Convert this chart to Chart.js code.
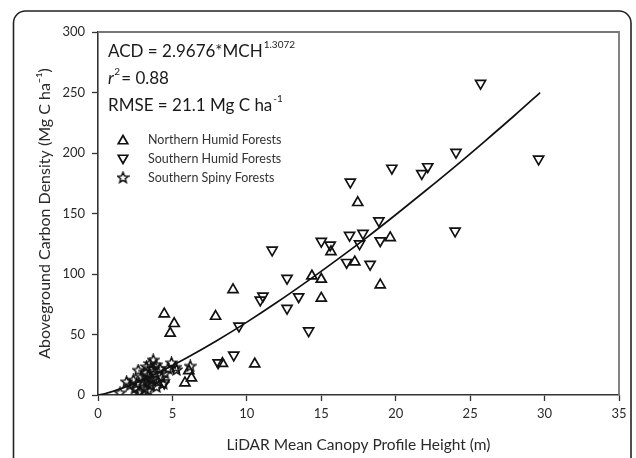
<!DOCTYPE html>
<html>
<head>
<meta charset="utf-8">
<script src="https://cdn.jsdelivr.net/npm/chart.js@4/dist/chart.umd.min.js"></script>
<style>
html,body{margin:0;padding:0;background:#fff;}
#wrap{width:636px;height:458px;position:relative;}
</style>
</head>
<body>
<div id="wrap"><canvas id="c" width="636" height="458"></canvas></div>
<script>
// ---- data ----
const northernX = [4.45,5.12,4.85,7.9,9.07,8.36,10.53,5.84,6.28,6.1,14.37,15.0,15.0,15.65,17.25,17.45,18.96,19.63];
const northernY = [67,59,51,65,87,26,25.6,10,14,20,98.3,95.6,80,118.4,110,159,91,130];

const southernX = [25.7,29.6,24.05,23.99,19.74,21.75,22.15,16.95,18.87,18.96,17.8,16.9,17.57,18.28,16.7,15.0,15.6,11.7,12.7,12.7,13.48,14.15,10.9,11.08,9.47,9.12,8.07,4.45];
const southernY = [257.6,195,200.6,135.5,187.5,183,188.7,176,144,127.5,133.6,132,125,108,109.6,127,124,119.8,96.4,71.6,81.2,53,78.5,81.8,57,33,26.7,10];

const spinyX = [3.71,3.49,4.94,5.27,6.2,3.15,2.93,3.37,3.82,4.16,4.27,4.38,3.93,3.49,3.15,2.82,2.48,2.15,1.92,2.37,2.6,1.48,2.7,3.6,3.71,3.26,4.05,4.5,4.7,3.04,3.37,2.73,3.9,3.5,3.3,5.2];
const spinyY = [29,26,26.7,21,24,19,15,16.5,18,22,14.6,9.6,6.9,8.3,5.5,2.7,5.5,8.3,11,12.4,9.7,1.9,20.6,12.4,22,23.4,11,18,22,11,4,2.2,25,14,10,23];

// fitted curve
const fitX = [0,0.5,1,2,3,4,5,6,8,10,12,14,16,18,20,22,24,26,28,29.7];
const fitY = [0,1.2,3.0,7.3,12.5,18.2,24.3,30.9,45.0,60.2,76.4,93.5,111.3,129.7,149.0,168.8,189.0,209.9,231.2,249.9];

const xTicks = [0,5,10,15,20,25,30,35];
const yTicks = [0,50,100,150,200,250,300];

const seriesNames = ['Northern Humid Forests','Southern Humid Forests','Southern Spiny Forests'];
const xTitle = 'LiDAR Mean Canopy Profile Height (m)';
const yTitle = 'Aboveground Carbon Density (Mg C ha\u207B\u00B9)';

// ---- helpers ----
const zip = (xs, ys) => xs.map((x, i) => ({x: x, y: ys[i]}));
const FONT = 'Lato, "Open Sans", sans-serif';
const INK = '#111';

function starImage(){
  const c = document.createElement('canvas');
  c.width = 13; c.height = 13;
  const g = c.getContext('2d');
  g.beginPath();
  for (let i = 0; i < 10; i++) {
    const r = i % 2 === 0 ? 5.6 : 2.5;
    const a = -Math.PI/2 + i*Math.PI/5;
    const px = 6.5 + r*Math.cos(a), py = 6.9 + r*Math.sin(a);
    if (i === 0) g.moveTo(px, py); else g.lineTo(px, py);
  }
  g.closePath();
  g.lineWidth = 1.5;
  g.strokeStyle = INK;
  g.stroke();
  return c;
}
const STAR = starImage();

function drawTri(ctx, x, y, down){
  const r = 5.5;
  ctx.save();
  ctx.translate(x, y);
  if (down) ctx.rotate(Math.PI);
  ctx.beginPath();
  ctx.moveTo(0, -r);
  ctx.lineTo(r*0.866, r*0.5);
  ctx.lineTo(-r*0.866, r*0.5);
  ctx.closePath();
  ctx.lineWidth = 1.7;
  ctx.strokeStyle = INK;
  ctx.stroke();
  ctx.restore();
}

const decor = {
  id: 'decor',
  beforeDraw(chart){
    const ctx = chart.ctx;
    ctx.save();
    ctx.fillStyle = '#fff';
    ctx.fillRect(0,0,chart.width,chart.height);
    ctx.beginPath();
    ctx.roundRect(13.5, 11, 617.5, 470, 12);
    ctx.lineWidth = 1.6;
    ctx.strokeStyle = '#222';
    ctx.stroke();
    ctx.restore();
  },
  afterDatasetsDraw(chart){
    const ctx = chart.ctx;
    const a = chart.chartArea;
    ctx.save();
    ctx.beginPath();
    ctx.moveTo(a.left, a.top);
    ctx.lineTo(a.right, a.top);
    ctx.lineTo(a.right, a.bottom);
    ctx.lineWidth = 1.8;
    ctx.strokeStyle = '#777';
    ctx.stroke();

    ctx.fillStyle = '#1a1a1a';
    ctx.textBaseline = 'alphabetic';
    ctx.textAlign = 'left';
    const big = '17px ' + FONT, small = '10px ' + FONT;
    let x = 108, y = 57;
    ctx.font = big;
    const t1 = 'ACD = 2.9676*MCH';
    ctx.fillText(t1, x, y);
    let w = ctx.measureText(t1).width;
    ctx.font = small;
    ctx.fillText('1.3072', x + w + 1, y - 9);

    y = 84;
    ctx.font = 'italic 17px ' + FONT;
    ctx.fillText('r', x, y);
    w = ctx.measureText('r').width;
    ctx.font = small;
    ctx.fillText('2', x + w + 0.5, y - 9);
    ctx.font = big;
    ctx.fillText(' = 0.88', x + w + 3, y);

    y = 111;
    ctx.font = big;
    const t3 = 'RMSE = 21.1 Mg C ha';
    ctx.fillText(t3, x, y);
    w = ctx.measureText(t3).width;
    ctx.font = small;
    ctx.fillText('-1', x + w + 1, y - 9);

    ctx.font = '12.5px ' + FONT;
    ctx.fillStyle = '#333';
    ctx.textBaseline = 'middle';
    const ly = [140, 159, 178];
    drawTri(ctx, 123, ly[0] + 1, false);
    drawTri(ctx, 123, ly[1] - 1, true);
    ctx.drawImage(STAR, 116.5, ly[2] - 7);
    seriesNames.forEach((n, i) => ctx.fillText(n, 148, ly[i]));
    ctx.restore();
  }
};

const tickFont = {family: FONT, size: 13};

new Chart(document.getElementById('c'), {
  type: 'scatter',
  data: {
    datasets: [
      {
        type: 'line', label: 'fit', data: zip(fitX, fitY),
        borderColor: INK, borderWidth: 1.7, pointRadius: 0,
        cubicInterpolationMode: 'monotone', fill: false, order: 0
      },
      {
        label: seriesNames[0], data: zip(northernX, northernY),
        pointStyle: 'triangle', pointRadius: 5.8, pointBorderWidth: 1.7,
        borderColor: INK, backgroundColor: 'rgba(0,0,0,0)', rotation: 0
      },
      {
        label: seriesNames[1], data: zip(southernX, southernY),
        pointStyle: 'triangle', pointRadius: 5.8, pointBorderWidth: 1.7,
        borderColor: INK, backgroundColor: 'rgba(0,0,0,0)', rotation: 180
      },
      {
        label: seriesNames[2], data: zip(spinyX, spinyY),
        pointStyle: STAR, pointRadius: 6,
        borderColor: INK, backgroundColor: 'rgba(0,0,0,0)'
      }
    ]
  },
  options: {
    responsive: false,
    animation: false,
    layout: {padding: {left: 0, right: 17, top: 32, bottom: 0}},
    plugins: {legend: {display: false}, tooltip: {enabled: false}},
    scales: {
      x: {
        type: 'linear', min: 0, max: 35,
        afterBuildTicks: s => { s.ticks = xTicks.map(v => ({value: v})); },
        afterFit: s => { s.height = 63; },
        grid: {drawOnChartArea: false, tickLength: 6, color: '#333', tickWidth: 1.3},
        border: {color: '#333', width: 1.6},
        ticks: {font: tickFont, color: '#2a2a2a', padding: 5, maxRotation: 0},
        title: {display: true, text: xTitle, font: {family: FONT, size: 15.5}, color: '#2a2a2a', padding: {top: 0, bottom: 4}}
      },
      y: {
        type: 'linear', min: 0, max: 300,
        afterBuildTicks: s => { s.ticks = yTicks.map(v => ({value: v})); },
        afterFit: s => { s.width = 98; },
        grid: {drawOnChartArea: false, tickLength: 6, color: '#333', tickWidth: 1.3},
        border: {color: '#333', width: 1.6},
        ticks: {font: tickFont, color: '#2a2a2a', padding: 7},
        title: {display: true, text: yTitle, font: {family: FONT, size: 16}, color: '#2a2a2a', padding: {top: 35, bottom: 0}}
      }
    }
  },
  plugins: [decor]
});
</script>
</body>
</html>
